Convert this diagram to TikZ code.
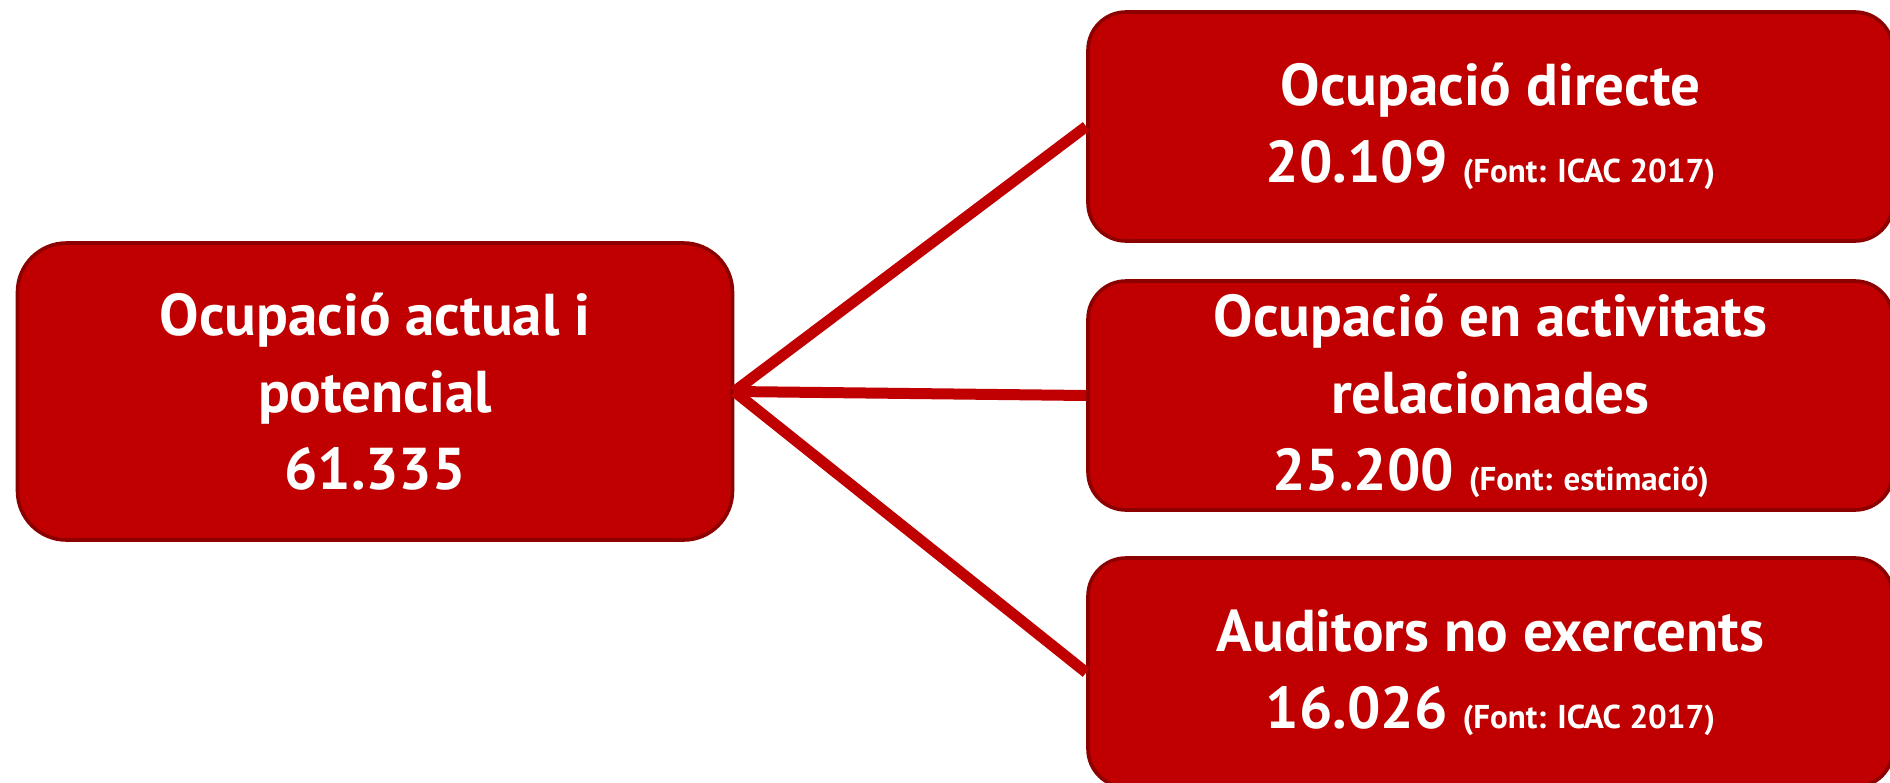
\documentclass[tikz,border=0pt]{standalone}
\usepackage{fontspec}
\setmainfont{PT Sans}
\usepackage{xcolor}

\definecolor{boxred}{RGB}{192,0,0}
\definecolor{edgered}{RGB}{140,0,0}

\newcommand{\bigtxt}{\fontsize{29.5}{34.5}\selectfont\bfseries}
\newcommand{\smalltxt}{\fontsize{16.5}{18}\selectfont\bfseries}

\tikzset{
  redbox/.style={draw=edgered, line width=1.8pt, fill=boxred, text=white,
    align=center, inner sep=0pt, font=\bigtxt},
  linkline/.style={draw=boxred, line width=5.5pt}
}

\begin{document}
\begin{tikzpicture}[x=0.5pt, y=-0.5pt]
  % Page size and clipping
  \useasboundingbox (0,0) rectangle (1890,782);
  \clip (0,0) rectangle (1890,782);

  % Left box
  \node[redbox, minimum width=357.5pt, minimum height=148.5pt, rounded corners=24.5pt]
    (total) at (375,391.5) {Ocupació actual i\\[4pt]potencial\\[4pt]61.335};

  % Right boxes
  \node[redbox, minimum width=402.5pt, minimum height=114.5pt, rounded corners=19pt]
    (directe) at (1490.5,126.5) {Ocupació directe\\[4pt]20.109 {\smalltxt (Font: ICAC 2017)}};
  \node[redbox, minimum width=402.5pt, minimum height=114.5pt, rounded corners=19pt]
    (relacio) at (1490.5,395.5) {Ocupació en activitats\\[4pt]relacionades\\[4pt]25.200 {\smalltxt (Font: estimació)}};
  \node[redbox, minimum width=402.5pt, minimum height=114.5pt, rounded corners=19pt]
    (auditors) at (1490.5,672.5) {Auditors no exercents\\[4pt]16.026 {\smalltxt (Font: ICAC 2017)}};

  % Connectors
  \draw[linkline] (total.east) -- (directe.west);
  \draw[linkline] (total.east) -- (relacio.west);
  \draw[linkline] (total.east) -- (auditors.west);
\end{tikzpicture}
\end{document}
